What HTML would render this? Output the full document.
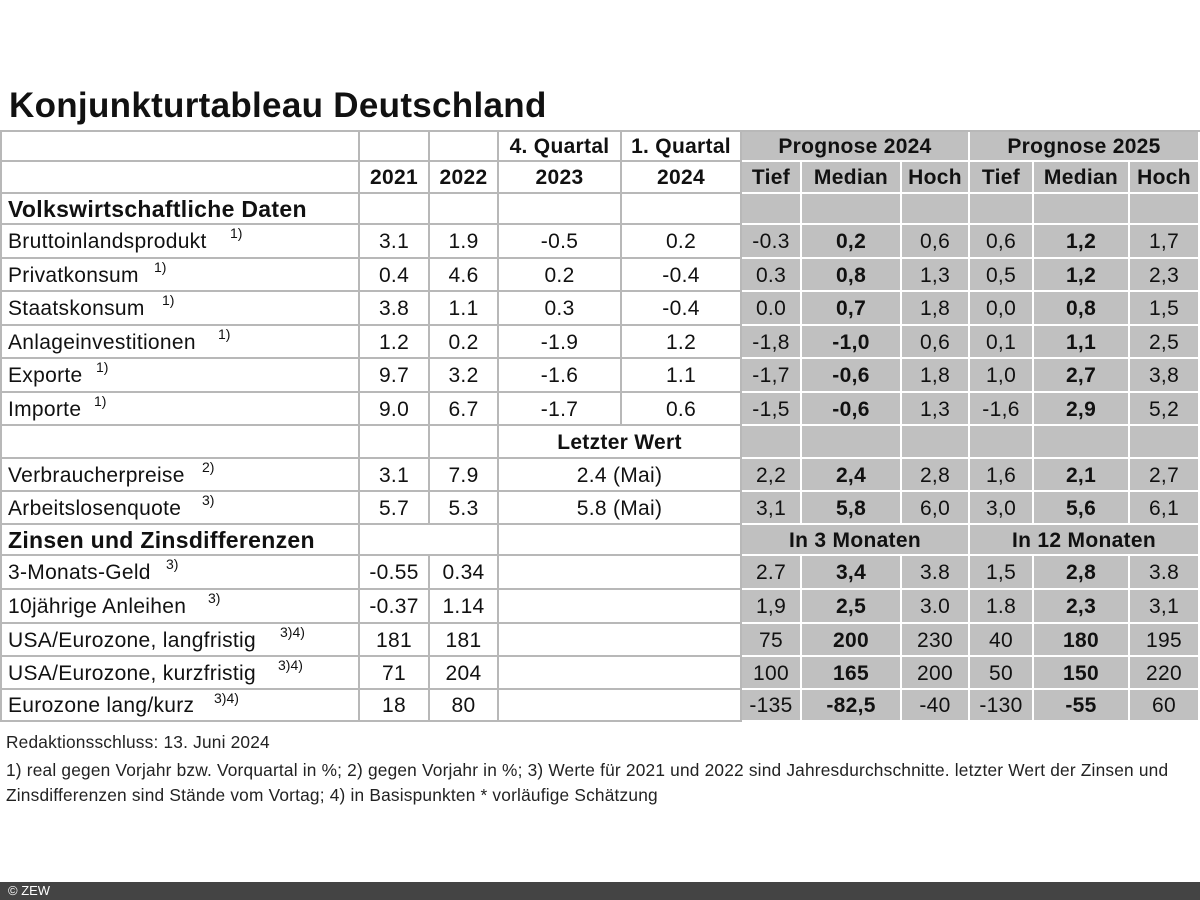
<!DOCTYPE html>
<html><head><meta charset="utf-8"><style>
body{margin:0;width:1200px;height:900px;background:#fff;position:relative;overflow:hidden;font-family:"Liberation Sans",Arial,sans-serif;color:#111}
.title{position:absolute;left:9px;top:86px;font-size:35px;font-weight:bold;letter-spacing:0.3px}
table{position:absolute;left:0;top:130px;border-collapse:separate;border-spacing:0;table-layout:fixed;font-size:21px;letter-spacing:0.3px;border-top:2px solid #b8b8b8;border-left:2px solid #b8b8b8}
td{border-right:2px solid #b8b8b8;border-bottom:2px solid #b8b8b8;padding:2px 0 0 0;box-sizing:border-box;text-align:center;white-space:nowrap;position:relative;overflow:visible}
td.g{background:#c0c0c0;border-right:2px solid #fff;border-bottom:2px solid #fff}
td.l{text-align:left;padding-left:6px}
.b{font-weight:bold}
.h{font-size:23px;letter-spacing:0.3px}
.s{position:absolute;top:0px;font-size:14px;letter-spacing:0}
.fn{position:absolute;left:6px;font-size:17.3px;color:#222;letter-spacing:0.2px}
.bar{position:absolute;left:0;top:882px;width:1200px;height:18px;background:#444;color:#fff;font-size:13px;line-height:18px;padding-left:8px;box-sizing:border-box}
</style></head><body>
<div class="title">Konjunkturtableau Deutschland</div>
<table>
<colgroup><col style="width:358px"><col style="width:70px"><col style="width:69px"><col style="width:123px"><col style="width:120px"><col style="width:60px"><col style="width:100px"><col style="width:68px"><col style="width:64px"><col style="width:96px"><col style="width:70px"></colgroup>
<tr><td style="height:30px"></td><td></td><td></td><td class="b">4. Quartal</td><td class="b">1. Quartal</td><td class="g b" colspan="3">Prognose 2024</td><td class="g b" colspan="3">Prognose 2025</td></tr>
<tr><td style="height:32px"></td><td class="b">2021</td><td class="b">2022</td><td class="b">2023</td><td class="b">2024</td><td class="g b">Tief</td><td class="g b">Median</td><td class="g b">Hoch</td><td class="g b">Tief</td><td class="g b">Median</td><td class="g b">Hoch</td></tr>
<tr><td class="l b h" style="height:31px">Volkswirtschaftliche Daten</td><td></td><td></td><td></td><td></td><td class="g"></td><td class="g"></td><td class="g"></td><td class="g"></td><td class="g"></td><td class="g"></td></tr>
<tr><td class="l" style="height:34px">Bruttoinlandsprodukt<span class="s" style="left:228px">1)</span></td><td>3.1</td><td>1.9</td><td>-0.5</td><td>0.2</td><td class="g">-0.3</td><td class="g b">0,2</td><td class="g">0,6</td><td class="g">0,6</td><td class="g b">1,2</td><td class="g">1,7</td></tr>
<tr><td class="l" style="height:33px">Privatkonsum<span class="s" style="left:152px">1)</span></td><td>0.4</td><td>4.6</td><td>0.2</td><td>-0.4</td><td class="g">0.3</td><td class="g b">0,8</td><td class="g">1,3</td><td class="g">0,5</td><td class="g b">1,2</td><td class="g">2,3</td></tr>
<tr><td class="l" style="height:34px">Staatskonsum<span class="s" style="left:160px">1)</span></td><td>3.8</td><td>1.1</td><td>0.3</td><td>-0.4</td><td class="g">0.0</td><td class="g b">0,7</td><td class="g">1,8</td><td class="g">0,0</td><td class="g b">0,8</td><td class="g">1,5</td></tr>
<tr><td class="l" style="height:33px">Anlageinvestitionen<span class="s" style="left:216px">1)</span></td><td>1.2</td><td>0.2</td><td>-1.9</td><td>1.2</td><td class="g">-1,8</td><td class="g b">-1,0</td><td class="g">0,6</td><td class="g">0,1</td><td class="g b">1,1</td><td class="g">2,5</td></tr>
<tr><td class="l" style="height:34px">Exporte<span class="s" style="left:94px">1)</span></td><td>9.7</td><td>3.2</td><td>-1.6</td><td>1.1</td><td class="g">-1,7</td><td class="g b">-0,6</td><td class="g">1,8</td><td class="g">1,0</td><td class="g b">2,7</td><td class="g">3,8</td></tr>
<tr><td class="l" style="height:33px">Importe<span class="s" style="left:92px">1)</span></td><td>9.0</td><td>6.7</td><td>-1.7</td><td>0.6</td><td class="g">-1,5</td><td class="g b">-0,6</td><td class="g">1,3</td><td class="g">-1,6</td><td class="g b">2,9</td><td class="g">5,2</td></tr>
<tr><td style="height:33px"></td><td></td><td></td><td colspan="2" class="b">Letzter Wert</td><td class="g"></td><td class="g"></td><td class="g"></td><td class="g"></td><td class="g"></td><td class="g"></td></tr>
<tr><td class="l" style="height:33px">Verbraucherpreise<span class="s" style="left:200px">2)</span></td><td>3.1</td><td>7.9</td><td colspan="2">2.4 (Mai)</td><td class="g">2,2</td><td class="g b">2,4</td><td class="g">2,8</td><td class="g">1,6</td><td class="g b">2,1</td><td class="g">2,7</td></tr>
<tr><td class="l" style="height:33px">Arbeitslosenquote<span class="s" style="left:200px">3)</span></td><td>5.7</td><td>5.3</td><td colspan="2">5.8 (Mai)</td><td class="g">3,1</td><td class="g b">5,8</td><td class="g">6,0</td><td class="g">3,0</td><td class="g b">5,6</td><td class="g">6,1</td></tr>
<tr><td class="l b h" style="height:31px">Zinsen und Zinsdifferenzen</td><td colspan="2"></td><td colspan="2"></td><td class="g b" colspan="3">In 3 Monaten</td><td class="g b" colspan="3">In 12 Monaten</td></tr>
<tr><td class="l" style="height:34px">3-Monats-Geld<span class="s" style="left:164px">3)</span></td><td>-0.55</td><td>0.34</td><td colspan="2"></td><td class="g">2.7</td><td class="g b">3,4</td><td class="g">3.8</td><td class="g">1,5</td><td class="g b">2,8</td><td class="g">3.8</td></tr>
<tr><td class="l" style="height:34px">10jährige Anleihen<span class="s" style="left:206px">3)</span></td><td>-0.37</td><td>1.14</td><td colspan="2"></td><td class="g">1,9</td><td class="g b">2,5</td><td class="g">3.0</td><td class="g">1.8</td><td class="g b">2,3</td><td class="g">3,1</td></tr>
<tr><td class="l" style="height:33px">USA/Eurozone, langfristig<span class="s" style="left:278px">3)4)</span></td><td>181</td><td>181</td><td colspan="2"></td><td class="g">75</td><td class="g b">200</td><td class="g">230</td><td class="g">40</td><td class="g b">180</td><td class="g">195</td></tr>
<tr><td class="l" style="height:33px">USA/Eurozone, kurzfristig<span class="s" style="left:276px">3)4)</span></td><td>71</td><td>204</td><td colspan="2"></td><td class="g">100</td><td class="g b">165</td><td class="g">200</td><td class="g">50</td><td class="g b">150</td><td class="g">220</td></tr>
<tr><td class="l" style="height:32px">Eurozone lang/kurz<span class="s" style="left:212px">3)4)</span></td><td>18</td><td>80</td><td colspan="2"></td><td class="g">-135</td><td class="g b">-82,5</td><td class="g">-40</td><td class="g">-130</td><td class="g b">-55</td><td class="g">60</td></tr>
</table>
<div class="fn" style="top:732px">Redaktionsschluss: 13. Juni 2024</div>
<div class="fn" style="top:758px;line-height:25px;width:1192px">1) real gegen Vorjahr bzw. Vorquartal in %; 2) gegen Vorjahr in %; 3) Werte für 2021 und 2022 sind Jahresdurchschnitte. letzter Wert der Zinsen und Zinsdifferenzen sind Stände vom Vortag; 4) in Basispunkten * vorläufige Schätzung</div>
<div class="bar">© ZEW</div>
</body></html>
